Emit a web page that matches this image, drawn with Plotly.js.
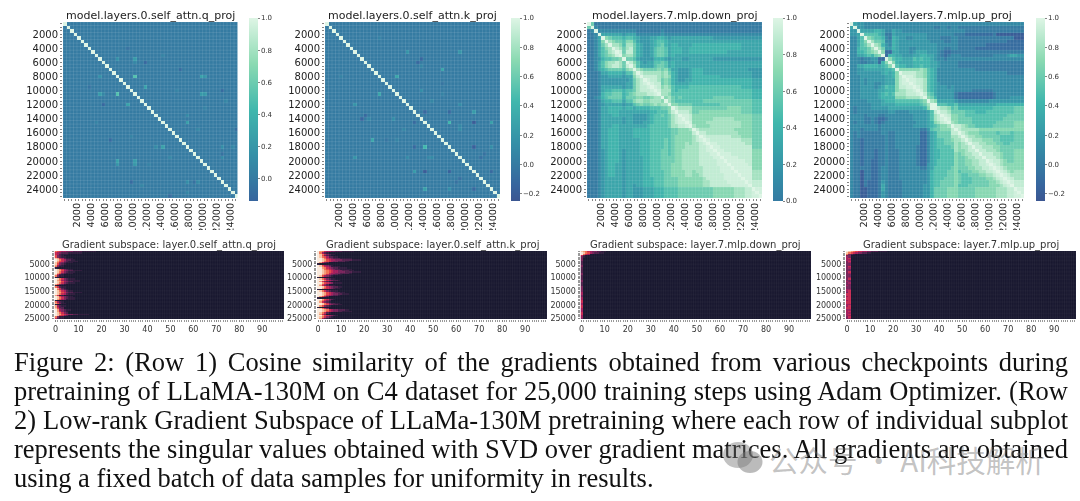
<!DOCTYPE html>
<html><head><meta charset="utf-8">
<script src="https://cdn.plot.ly/plotly-3.0.1.min.js"></script>
<style>
html,body{margin:0;padding:0;background:#fff;width:1080px;height:501px;overflow:hidden}
#chart{position:absolute;left:0;top:0;width:1080px;height:501px;filter:blur(0.55px)}
.cap{position:absolute;left:14px;white-space:nowrap;font-family:"Liberation Serif",serif;font-size:26.5px;color:#111;line-height:29px;filter:blur(0.3px)}
#wm{position:absolute;left:769px;top:441px;font-family:"Noto Sans CJK SC",sans-serif;font-size:29.5px;line-height:36px;color:rgba(110,110,110,.42);white-space:nowrap}
#wmi{position:absolute;left:722px;top:441px}
</style></head><body>
<div id="chart"></div>
<div id="caption"></div>
<svg id="wmi" width="42" height="33"><ellipse cx="16" cy="14" rx="15" ry="13" fill="rgba(110,110,110,.42)"/><ellipse cx="28" cy="21" rx="12.5" ry="11" fill="rgba(120,120,120,.5)"/></svg>
<div id="wm">公众号 · AI科技解析</div>
<script>
const topTitles=["model.layers.0.self_attn.q_proj","model.layers.0.self_attn.k_proj","model.layers.7.mlp.down_proj","model.layers.7.mlp.up_proj"];
const bottomTitles=["Gradient subspace: layer.0.self_attn.q_proj","Gradient subspace: layer.0.self_attn.k_proj","Gradient subspace: layer.7.mlp.down_proj","Gradient subspace: layer.7.mlp.up_proj"];
const captionLines=["Figure 2: (Row 1) Cosine similarity of the gradients obtained from various checkpoints during",
"pretraining of LLaMA-130M on C4 dataset for 25,000 training steps using Adam Optimizer. (Row",
"2) Low-rank Gradient Subspace of LLaMa-130M pretraining where each row of individual subplot",
"represents the singular values obtained with SVD over gradient matrices. All gradients are obtained",
"using a fixed batch of data samples for uniformity in results."];
const steps=[500,1000,1500,2000,2500,3000,3500,4000,4500,5000,5500,6000,6500,7000,7500,8000,8500,9000,9500,10000,10500,11000,11500,12000,12500,13000,13500,14000,14500,15000,15500,16000,16500,17000,17500,18000,18500,19000,19500,20000,20500,21000,21500,22000,22500,23000,23500,24000,24500,25000];
const zMinTop=[-0.14,-0.25,0,-0.25];
const baseSim=[0.0,0.0];
// cosine similarity outliers [row, col, value]
const qProjSpots=[[15,20,0.5],[11,23,-0.12],[10,20,0.22],[18,23,0.27],[13,33,-0.1],[15,39,0.27],[15,40,0.18],[10,15,0.14],[20,40,0.2],[20,39,0.22],[28,35,0.26],[26,35,0.1],[37,45,-0.06],[38,45,0.1],[30,49,-0.09],[19,45,-0.1],[35,45,0.13],[7,18,-0.05],[9,28,0.06],[30,38,0.07],[35,48,0.08],[11,20,0.08],[19,32,0.06],[22,46,0.07],[24,40,0.05]];
const kProjSpots=[[8,23,0.18],[8,38,0.18],[10,27,-0.13],[11,26,-0.12],[13,33,0.3],[15,20,0.3],[19,27,0.13],[23,38,0.11],[25,42,0.22],[25,28,-0.11],[25,35,-0.12],[28,35,0.42],[28,42,-0.2],[28,47,0.26],[35,42,-0.17],[30,38,0.1],[35,47,0.13],[42,47,-0.11],[37,45,-0.06],[17,33,-0.04],[12,27,0.07],[4,15,0.05],[22,30,0.07],[20,33,0.06],[29,38,0.08],[38,44,-0.07]];
// lower triangle of similarity, codes: digit=tenths, x=.95, a=1, y=-.1, z=-.2
const downRows=["a","6a","01a","001a","0013a","00137a","001368a","0013578a","00135689a","00135678xa","0012455667a","00135788986a","0013578998 69a","00134566665 78a","000133444435 58a","0001223333233 79a","0001222222223 689a","0001222222233 689xa","0001333333233 6899xa","0001344555455 68999xa","0001455666456 788899xa","0012456666466 67766788a","0001344555355 788778887a","0001233333233 56766787 88a",
"0001334444344 3444455566 7a","0001334443333 3333344555 79a","0001333443333 2222345565 689a","0001333333233 2222345555 689xa","0001333333233 2223345555 689xxa","0001333443333 3333455555 68899xa","0001334443333 4444455555 5667778 a","0001334443333 4444455555 5667777 9a","0001334443333 4444455555 5677777 89a","0001334443333 3344455556 5677777 89xa","0001334443333 3344455556 5677787 889xa","0001334443333 3344455556 5677788 8899xa","0001234443233 3344455566 5677888 8899xxa","0001234443233 3344455566 5677888 88999xxa","0001234443233 3334455566 6677888 889999xxa","0001234443233 3334455566 6677888 8899999xxa","0001234433233 3334455566 6777888 8899999xxxa","0001234433233 3334455566 6777888 88899999xxxa","0001234433233 3334455556 6777788 78899999xxxxa","0001234433233 3334455556 6777788 778999999xxxxa","0001233333233 3334445556 6667777 777899999xxxxxa","0001233333233 3334445556 6667777 7778899999xxxxxa","0001233333233 2334445556 6667777 77788999999xxxxxa","0001233333233 2223334445 5556666 66666677777788899 a","0001233333233 2223334445 5556666 66666677777788899 xa","0001233333233 2223334445 5556666 66666677777788899 xxa"];
const upRows=["a","3a","22a","223a","1135a","11357a","113568a","1145568a","11445678a","113345467a","11101122yya","11100112y47a","113344443457a","11223333334 45a","1122222223434 7a","1112222222334 79a","1112122222333 79xa","1112122112333 79xxa","1112222123544 799xxa","1112222233444 788 99xa","1112222234545 8889 99xa","1112222234444 77788889a","1111122223444 555555567a","1111112223333 44444445 68a",
"1011112222233 333333334 7a","1011111111122 111122222 359a","1111011100111 111112222 3589a","11110010yy011 111112222 3589xa","10110010y0111 111111222 34789xa","1111111101111 1111122223 456778a","1110111101111 111111100 2 5667779 a","1010000001100 1111111yy1 3466669 9a","1010000000100 1111111yy1 3466668 89a","100y000000100 1111111yy1 3455667 889a","100y000000100 1111111yy1 3455666 8789a","100y000000100 1111110yy1 3455556 87889a","100y000y00100 0111110yy1 3445555 877899a","100y000y00100 0111110yy1 3445555 7678899a","100y000y00100 0111110yy1 3445555 76678899a","100y00yy00100 0111110yy1 3455555 766778899a","100y00yy00100 0111110yy2 3455555 76677889 9xa","100000yy01100 0111111002 3555556 766677889 9xa","100z00yy01100 0111111112 4555566 7566677889 9xa","100z00yy01100 0111111112 4555566 765566677889xa","100z00yy01100 0111111112 4555666 765556666 7789xa","100z0yyy02100 0011111112 4556666 7655566666 7789xa","100z0yyy03100 0011111122 4556666 7555666666 7778 9xa","100zzyyy03100 0011111122 4666677 76666677777788899 a","100zzyyy02100 0011111122 4666677 76666677777788899 xa","100zzyyy02100 0011111122 4666677 76666677777788899 xxa"];
// singular values per row, first columns only: digit=tenths, a=1
const subQ=["7654433322221111110","5432221111110","542111","6321","63211","98542111","a97542211","a865321111","97432111","96321","8421","7311","1","a9753211","a98643221111","a97532111","a8632111","9521","73110","1","a97532111","a8743211111","a9864322111","a97532111","86321","1","75211","a8521","a75321","a9754211","a98653221111","a97542111","8511","a9643211","a97532111","a86431111","1","7421","86311","1","84211","8522","9632","a843211","a85321","a97532","a98654332211111","a96532","7311","5211"];
const subK=["a875443322211111","a7421","a9753211","a96321","a97642211","aa9754322211111","aa98654433322221111","aa976543322211","a8532","1","a964321","a975431111","aa87543221111","aa9765432211111","aa98765443322211","aa98765443332221111","aa9875443322221","aa875432211","a964321","1","a9753211","aa97543221","a85321","aa865431111","a9642","a8532111","aa975432211","aa86543211","1","a97532111","aa9865432211","aa986543322111","aa97543221","a8642","1","aa865321","a97532","a85321","aa97532211","aa976432211","a86321","1","a9753","aa987543322211","aa9865433221111","a97521","a853","aa8654321","a975321","a8421"];
const subDown=["98754332211","a976432211","a754","52","31","3","3","2","2","2","3","3","2","2","2","2","3","3","2","2","2","3","3","2","2","2","3","3","3","3","4","4","3","3","4","4","5","5","4","4","5","5","4","4","4","5","5","4","4","3"];
const subUp=["a98765544332221111","97654332211","7321","33","43","45","44","35","34","33","33","35","34","33","33","35","34","33","33","34","35","33","43","34","33","43","33","33","44","45","35","55","55","45","55","55","45","55","55","44","45","55","55","44","45","44","45","44","35","34"];
const makoAnchors=[[-0.714,"#2e1e3b"],[-0.428,"#413d7b"],[-0.143,"#37659e"],[0,"#357ba2"],[0.143,"#348fa7"],[0.428,"#40b7ad"],[0.714,"#8bdab2"],[1,"#def5e5"]];
const rocketScale=[[0,"#15142c"],[0.143,"#35193e"],[0.286,"#701f57"],[0.429,"#ad1759"],[0.571,"#e13342"],[0.714,"#f37651"],[0.857,"#f6b48f"],[1,"#faebdd"]];
// layout
const topBoxes=[[63,237.5],[325,500],[587,762],[850,1024]];
const barBoxes=[[249,9],[511,9],[773,10],[1036,9]];
const botBoxes=[[54.5,284],[317,547],[580.5,811],[846,1076]];
const W=1080,H=501,topY=[22,198],botY=[251,319],barY=[18,201];

function code(c){if(c==='a')return 1;if(c==='x')return .95;if(c==='y')return -.1;if(c==='z')return -.2;return +c/10;}
function hex(h){return [1,3,5].map(k=>parseInt(h.slice(k,k+2),16));}
function scaleFor(zmin){
  const out=[];let prev=null;
  for(const [v,c] of makoAnchors){
    if(v>zmin){
      if(prev&&!out.length){const t=(zmin-prev[0])/(v-prev[0]);const a=hex(prev[1]),b=hex(c);
        out.push([0,`rgb(${a.map((x,i)=>Math.round(x+(b[i]-x)*t)).join(',')})`]);}
      out.push([(v-zmin)/(1-zmin),c]);
    }
    prev=[v,c];
  }
  return out;
}
function fromSpots(spots,base){
  const m=steps.map((_,i)=>steps.map((_,j)=>i===j?1:base));
  spots.forEach(([i,j,v])=>{m[i][j]=v;m[j][i]=v;});
  return m;
}
function fromRows(rows){
  const m=steps.map(()=>steps.map(()=>0));
  rows.forEach((r,i)=>{const s=r.replace(/ /g,'');
    for(let j=0;j<=i;j++){const c=j<s.length?s[j]:s[s.length-2];const v=j===i?1:code(c);m[i][j]=v;m[j][i]=v;}});
  return m;
}
function fromSub(rows){
  return rows.map(r=>{const a=[];for(let k=0;k<100;k++)a.push(k<r.length?code(r[k]):0);return a;});
}
// faint lattice between cells, following each heatmap's own axes
function lattice(xEdges,yEdges,x0,x1,y0,y1){
  let d='';
  xEdges.forEach(x=>{d+=`M${x},${y0}L${x},${y1}`;});
  yEdges.forEach(y=>{d+=`M${x0},${y}L${x1},${y}`;});
  return d;
}
const stepEdges=[250].concat(steps.map(s=>s+250));
const cols=Array.from({length:100},(_,k)=>k);
const colEdges=cols.map(k=>k-0.5).concat([99.5]);
const topZ=[fromSpots(qProjSpots,baseSim[0]),fromSpots(kProjSpots,baseSim[1]),fromRows(downRows),fromRows(upRows)];
const botZ=[subQ,subK,subDown,subUp].map(fromSub);
const data=[],annotations=[],shapes=[];
const layout={width:W,height:H,margin:{l:0,r:0,t:0,b:0},paper_bgcolor:'rgba(0,0,0,0)',plot_bgcolor:'#fff',font:{family:'DejaVu Sans',color:'#262626'},showlegend:false};
const tickCol='#333';
topBoxes.forEach((b,p)=>{
  const n=p+1,xk='xaxis'+(n===1?'':n),yk='yaxis'+(n===1?'':n),xr='x'+(n===1?'':n),yr='y'+(n===1?'':n);
  const zmin=zMinTop[p];
  data.push({type:'heatmap',x:steps,y:steps,z:topZ[p],xaxis:xr,yaxis:yr,zmin,zmax:1,colorscale:scaleFor(zmin),hoverinfo:'skip',
    colorbar:{x:barBoxes[p][0]/W,xanchor:'left',xpad:0,ypad:0,y:1-barY[0]/H,yanchor:'top',len:barY[1]-barY[0],lenmode:'pixels',thickness:barBoxes[p][1],thicknessmode:'pixels',outlinewidth:0,tickvals:[-0.2,0,0.2,0.4,0.6,0.8,1],ticktext:['−0.2','0.0','0.2','0.4','0.6','0.8','1.0'],ticks:'outside',ticklen:2,tickwidth:.6,tickcolor:tickCol,tickfont:{size:7,family:'DejaVu Sans',color:'#333'}}});
  layout[xk]={domain:[b[0]/W,b[1]/W],range:[250,25250],anchor:yr,tick0:2000,dtick:2000,tickangle:-89.9,ticks:'outside',ticklen:2,tickwidth:.6,tickcolor:tickCol,tickformat:'d',ticklabelstandoff:-5,showgrid:false,zeroline:false,showline:false,tickfont:{size:9.7,family:'DejaVu Sans',color:'#222'},minor:{dtick:500,tick0:500,ticks:'outside',ticklen:2,tickwidth:.6,tickcolor:tickCol,showgrid:false}};
  layout[yk]={domain:[1-topY[1]/H,1-topY[0]/H],range:[25250,250],anchor:xr,tick0:2000,dtick:2000,ticks:'outside',ticklen:2,tickwidth:.6,tickcolor:tickCol,tickformat:'d',showgrid:false,zeroline:false,showline:false,tickfont:{size:10,family:'DejaVu Sans',color:'#222'},minor:{dtick:500,tick0:500,ticks:'outside',ticklen:2,tickwidth:.6,tickcolor:tickCol,showgrid:false}};
  shapes.push({type:'path',xref:xr,yref:yr,path:lattice(stepEdges,stepEdges,250,25250,250,25250),line:{color:'rgba(255,255,255,0.14)',width:0.7},layer:'above'});
  annotations.push({xref:'paper',yref:'paper',x:(b[0]+b[1])/2/W,y:1-15/H,xanchor:'center',yanchor:'middle',showarrow:false,text:topTitles[p],font:{size:11,family:'DejaVu Sans',color:'#222'}});
});
botBoxes.forEach((b,p)=>{
  const n=p+5,xk='xaxis'+n,yk='yaxis'+n,xr='x'+n,yr='y'+n;
  data.push({type:'heatmap',x:cols,y:steps,z:botZ[p],xaxis:xr,yaxis:yr,zmin:0,zmax:1,colorscale:rocketScale,showscale:false,hoverinfo:'skip'});
  layout[xk]={domain:[b[0]/W,b[1]/W],range:[-0.5,99.5],anchor:yr,tick0:0,dtick:10,ticks:'outside',ticklen:2,tickwidth:.6,tickcolor:tickCol,showgrid:false,zeroline:false,showline:false,tickfont:{size:8,family:'DejaVu Sans',color:'#333'},minor:{dtick:1,tick0:0,ticks:'outside',ticklen:2,tickwidth:.5,tickcolor:tickCol,showgrid:false}};
  layout[yk]={domain:[1-botY[1]/H,1-botY[0]/H],range:[25250,250],anchor:xr,tick0:5000,dtick:5000,ticks:'outside',ticklen:2,tickwidth:.6,tickcolor:tickCol,tickformat:'d',showgrid:false,zeroline:false,showline:false,tickfont:{size:8,family:'DejaVu Sans',color:'#333'},minor:{dtick:500,tick0:500,ticks:'outside',ticklen:2,tickwidth:.5,tickcolor:tickCol,showgrid:false}};
  shapes.push({type:'path',xref:xr,yref:yr,path:lattice(colEdges,stepEdges,-0.5,99.5,250,25250),line:{color:'rgba(255,255,255,0.07)',width:0.6},layer:'above'});
  annotations.push({xref:'paper',yref:'paper',x:(b[0]+b[1])/2/W,y:1-245/H,xanchor:'center',yanchor:'middle',showarrow:false,text:bottomTitles[p],font:{size:10,family:'DejaVu Sans',color:'#333'}});
});
layout.annotations=annotations;
// the reference crops the rotated labels of the top row
shapes.push({type:'rect',xref:'paper',yref:'paper',x0:0,x1:1,y0:1-239/H,y1:1-230/H,fillcolor:'#fff',line:{width:0},layer:'above'});
layout.shapes=shapes;
Plotly.newPlot('chart',data,layout,{staticPlot:true,displayModeBar:false});
// caption
const capEl=document.getElementById('caption');
captionLines.forEach((t,i)=>{
  const d=document.createElement('div');d.className='cap';d.textContent=t;d.style.top=(348+29*i)+'px';capEl.appendChild(d);
  if(i<4){const w=d.getBoundingClientRect().width;const ns=t.split(' ').length-1;d.style.wordSpacing=((1054-w)/ns)+'px';}
});
</script>
</body></html>
